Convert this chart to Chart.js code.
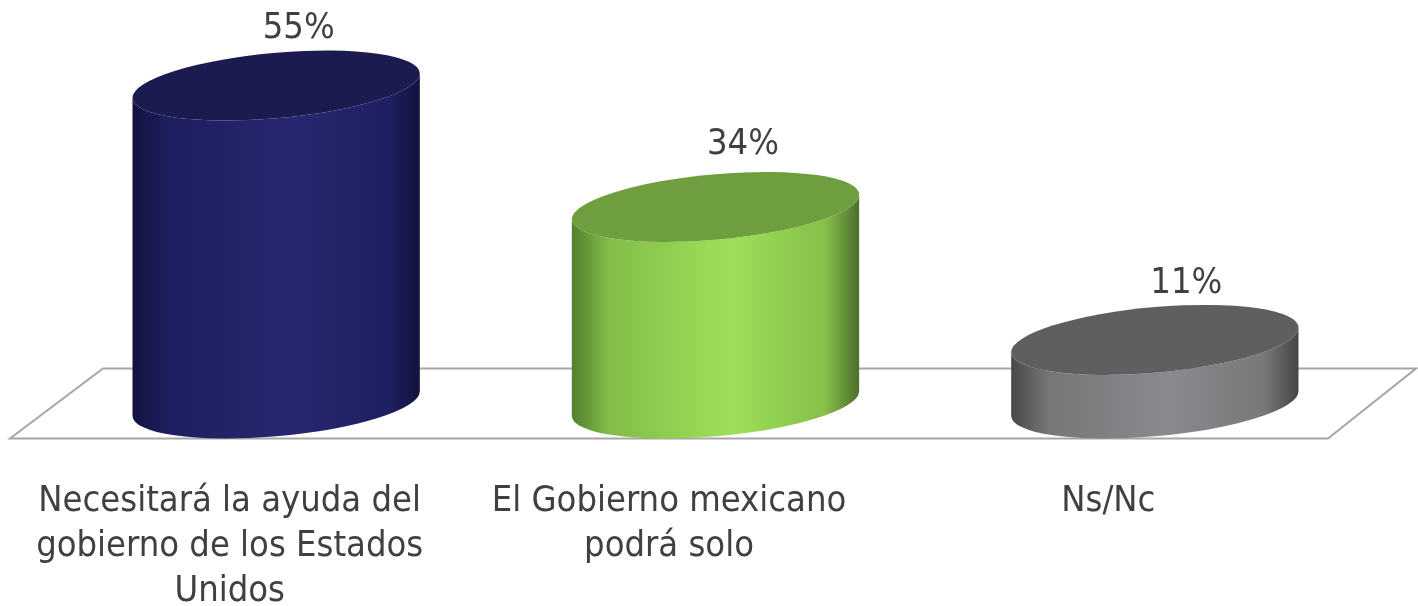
<!DOCTYPE html>
<html>
<head>
<meta charset="utf-8">
<script src="https://cdn.jsdelivr.net/npm/chart.js@4"></script>
<style>
  html, body { margin: 0; padding: 0; background: #fff; }
  canvas { display: block; }
</style>
</head>
<body>
<canvas id="chart" width="1418" height="606"></canvas>
<script>
const categories = [
    ['Necesitará la ayuda del', 'gobierno de los Estados', 'Unidos'],
    ['El Gobierno mexicano', 'podrá solo'],
    'Ns/Nc'
];
const values = [55, 34, 11];

const capColors = ['#1b1b50', '#6f9e3e', '#5f5f61'];
const bodyColors = [
    ['#121340', '#1e1f60', '#26276f', '#1f2063', '#13133f'],
    ['#527f2c', '#82bd48', '#9ddf58', '#86c04a', '#4d6f2c'],
    ['#48484a', '#77777a', '#8a8a8e', '#78787b', '#454547']
];
const bodyStops = [0, 0.13, 0.55, 0.88, 1];
const labelShiftX = [69, 74, 78];
const labelShiftY = [-57, -62, -56];

const textColor = '#404040';
const fontFamily = '"DejaVu Sans Condensed", "DejaVu Sans", sans-serif';
const depth = 93;      // how far the back edge of the floor sits to the right
const halfFloor = 35;  // half height of the floor, same as cap half height
const tilt = 0.085;

// cylinders instead of flat bars
Chart.BarElement.prototype.draw = function (ctx) {
    const i = this.$context.dataIndex;
    const cx = this.x + depth / 2;
    const a = this.width / 2;
    const b = Math.sqrt(halfFloor * halfFloor - (tilt * a) * (tilt * a));

    const grad = ctx.createLinearGradient(cx - a, 0, cx + a, 0);
    bodyStops.forEach((s, n) => grad.addColorStop(s, bodyColors[i][n]));

    ctx.save();
    ctx.fillStyle = grad;
    ctx.beginPath();
    ctx.save();
    ctx.transform(1, -tilt, 0, 1, cx, this.base);
    ctx.ellipse(0, 0, a, b, 0, 0, Math.PI);
    ctx.restore();
    ctx.save();
    ctx.transform(1, -tilt, 0, 1, cx, this.y);
    ctx.ellipse(0, 0, a, b, 0, Math.PI, 0, true);
    ctx.restore();
    ctx.closePath();
    ctx.fill();

    ctx.fillStyle = this.options.backgroundColor;
    ctx.beginPath();
    ctx.transform(1, -tilt, 0, 1, cx, this.y);
    ctx.ellipse(0, 0, a, b, 0, 0, Math.PI * 2);
    ctx.fill();
    ctx.restore();
};

const floorPlugin = {
    id: 'floor',
    beforeDatasetsDraw(chart) {
        const { ctx, chartArea, scales } = chart;
        const base = scales.y.getPixelForValue(0);
        ctx.save();
        ctx.strokeStyle = '#a6a6a6';
        ctx.lineWidth = 2;
        ctx.beginPath();
        ctx.moveTo(chartArea.left, base + halfFloor);
        ctx.lineTo(chartArea.right, base + halfFloor);
        ctx.lineTo(chartArea.right + depth - 5, base - halfFloor);
        ctx.lineTo(chartArea.left + depth, base - halfFloor);
        ctx.closePath();
        ctx.stroke();
        ctx.restore();
    }
};

const valueLabelPlugin = {
    id: 'valueLabels',
    afterDatasetsDraw(chart) {
        const { ctx } = chart;
        ctx.save();
        ctx.fillStyle = textColor;
        ctx.font = '36px ' + fontFamily;
        ctx.textAlign = 'center';
        ctx.textBaseline = 'middle';
        chart.getDatasetMeta(0).data.forEach((bar, i) => {
            ctx.fillText(values[i] + '%', bar.x + labelShiftX[i], bar.y + labelShiftY[i]);
        });
        ctx.restore();
    }
};

new Chart(document.getElementById('chart'), {
    type: 'bar',
    data: {
        labels: categories,
        datasets: [{
            data: values,
            backgroundColor: capColors,
            barPercentage: 0.654,
            categoryPercentage: 1,
            clip: false
        }]
    },
    options: {
        responsive: false,
        animation: false,
        layout: { padding: { left: 10, right: 90, top: 0, bottom: 0 } },
        plugins: { legend: { display: false }, tooltip: { enabled: false } },
        scales: {
            x: {
                grid: { display: false },
                border: { display: false },
                afterFit(scale) {
                    scale.height = 202.5;
                    scale.paddingLeft = 0;
                    scale.paddingRight = 0;
                },
                ticks: {
                    color: textColor,
                    autoSkip: false,
                    maxRotation: 0,
                    minRotation: 0,
                    padding: 68,
                    font: { family: fontFamily, size: 36, lineHeight: 1.25 }
                }
            },
            y: { display: false, min: 0, max: 69.8 }
        }
    },
    plugins: [floorPlugin, valueLabelPlugin]
});
</script>
</body>
</html>
